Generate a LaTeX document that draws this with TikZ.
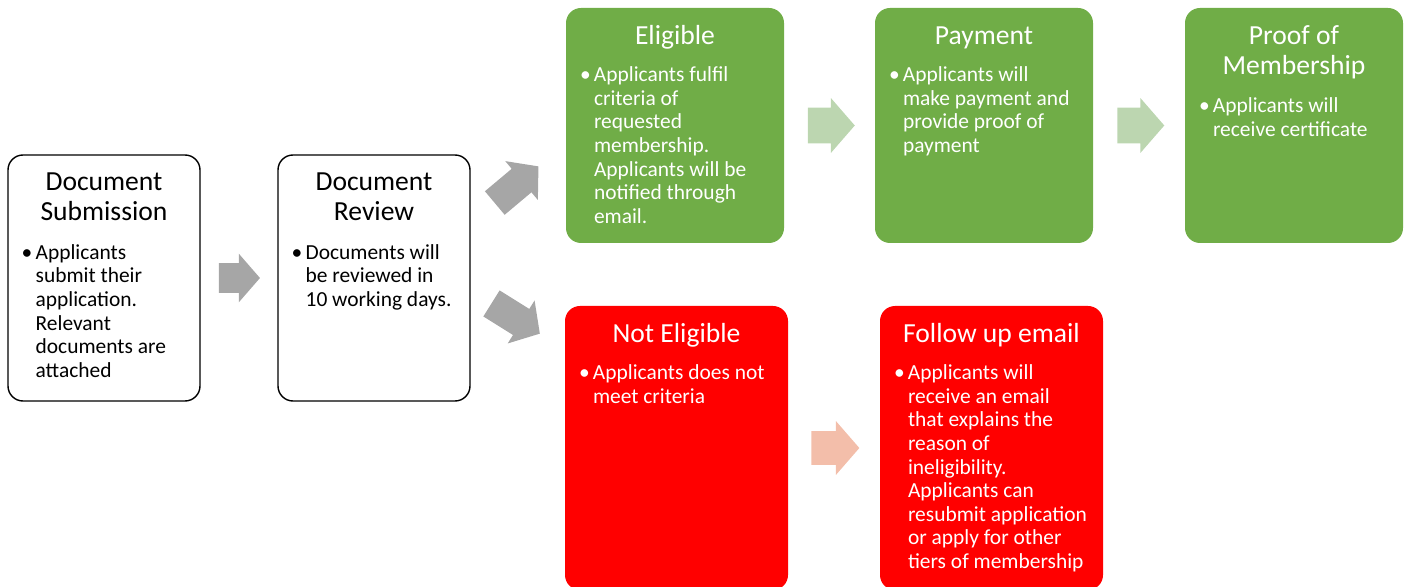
\documentclass[tikz,border=0pt]{standalone}
\usepackage{fontspec}
\setmainfont{Carlito}
\usetikzlibrary{positioning,calc,shapes.arrows}
\definecolor{boxgreen}{HTML}{70AD47}
\definecolor{boxred}{HTML}{FF0000}
\definecolor{arrowgray}{HTML}{A6A6A6}
\definecolor{arrowgreen}{HTML}{BCD6B0}
\definecolor{arrowpink}{HTML}{F3BEAA}
\newcommand{\bulletlines}[1]{\makebox[0.28cm][l]{\textbullet}\begin{tabular}[t]{@{}l@{}}#1\end{tabular}}
\newcommand{\headlines}[1]{\begin{tabular}{@{}c@{}}#1\end{tabular}}

\begin{document}
\begin{tikzpicture}[
  stage/.style={rectangle, rounded corners=0.3cm, inner sep=0pt},
  docbox/.style={stage, draw=black, line width=0.8pt, fill=white, minimum width=3.84cm, minimum height=4.92cm},
  passbox/.style={stage, fill=boxgreen, minimum width=4.36cm, minimum height=4.70cm},
  failbox/.style={stage, fill=boxred, minimum width=4.46cm, minimum height=5.68cm},
  heading/.style={inner sep=0pt, font=\fontsize{15.7}{17.1}\selectfont},
  points/.style={inner sep=0pt, font=\fontsize{12.2}{13.45}\selectfont},
  onfill/.style={text=white},
  flow/.style={single arrow, inner xsep=0pt, inner ysep=0.29cm, single arrow head extend=0.19cm, single arrow tip angle=98, minimum height=0.82cm, fill=arrowgray}]
\path[use as bounding box, clip] (0,0) rectangle (28.12,11.72);

\node[docbox] (sub) at (2.08,6.16) {};
\node[heading, below=0.3cm of sub.north] (subt) {\headlines{Document\\Submission}};
\node[points, below right=1.76cm and 0.28cm of sub.north west] (subp) {\bulletlines{Applicants\\submit their\\application.\\Relevant\\documents are\\attached}};

\node[docbox] (rev) at (7.48,6.16) {};
\node[heading, below=0.3cm of rev.north] (revt) {\headlines{Document\\Review}};
\node[points, below right=1.76cm and 0.28cm of rev.north west] (revp) {\bulletlines{Documents will\\be reviewed in\\10 working days.}};

\node[passbox] (elig) at (13.5,9.21) {};
\node[heading, onfill, below=0.3cm of elig.north] (eligt) {\headlines{Eligible}};
\node[points, onfill, below right=1.14cm and 0.28cm of elig.north west] (eligp) {\bulletlines{Applicants fulfil\\criteria of\\requested\\membership.\\Applicants will be\\notified through\\email.}};

\node[passbox] (pay) at (19.68,9.21) {};
\node[heading, onfill, below=0.3cm of pay.north] (payt) {\headlines{Payment}};
\node[points, onfill, below right=1.14cm and 0.28cm of pay.north west] (payp) {\bulletlines{Applicants will\\make payment and\\provide proof of\\payment}};

\node[passbox] (proof) at (25.88,9.21) {};
\node[heading, onfill, below=0.3cm of proof.north] (prooft) {\headlines{Proof of\\Membership}};
\node[points, onfill, below right=1.76cm and 0.28cm of proof.north west] (proofp) {\bulletlines{Applicants will\\receive certificate}};

\node[failbox] (ne) at (13.53,2.76) {};
\node[heading, onfill, below=0.3cm of ne.north] (net) {\headlines{Not Eligible}};
\node[points, onfill, below right=1.14cm and 0.28cm of ne.north west] (nep) {\bulletlines{Applicants does not\\meet criteria}};

\node[failbox] (fu) at (19.83,2.76) {};
\node[heading, onfill, below=0.3cm of fu.north] (fut) {\headlines{Follow up email}};
\node[points, onfill, below right=1.14cm and 0.28cm of fu.north west] (fup) {\bulletlines{Applicants will\\receive an email\\that explains the\\reason of\\ineligibility.\\Applicants can\\resubmit application\\or apply for other\\tiers of membership}};

\node[flow, xshift=-0.12cm] (a1) at ($(sub.east)!0.5!(rev.west)$) {};
\node[flow, minimum height=1.14cm, inner ysep=0.3cm, single arrow head extend=0.2cm, rotate=40] (a2) at (10.23,7.94) {};
\node[flow, minimum height=1.14cm, inner ysep=0.3cm, single arrow head extend=0.2cm, rotate=-32] (a3) at (10.20,5.42) {};
\node[flow, fill=arrowgreen, minimum height=0.94cm, inner ysep=0.35cm, xshift=-0.12cm] (a4) at ($(elig.east)!0.5!(pay.west)$) {};
\node[flow, fill=arrowgreen, minimum height=0.94cm, inner ysep=0.35cm, xshift=-0.12cm] (a5) at ($(pay.east)!0.5!(proof.west)$) {};
\node[flow, fill=arrowpink, minimum height=0.96cm, inner ysep=0.33cm, single arrow head extend=0.2cm, xshift=-0.12cm] (a6) at ($(ne.east)!0.5!(fu.west)$) {};
\end{tikzpicture}
\end{document}
